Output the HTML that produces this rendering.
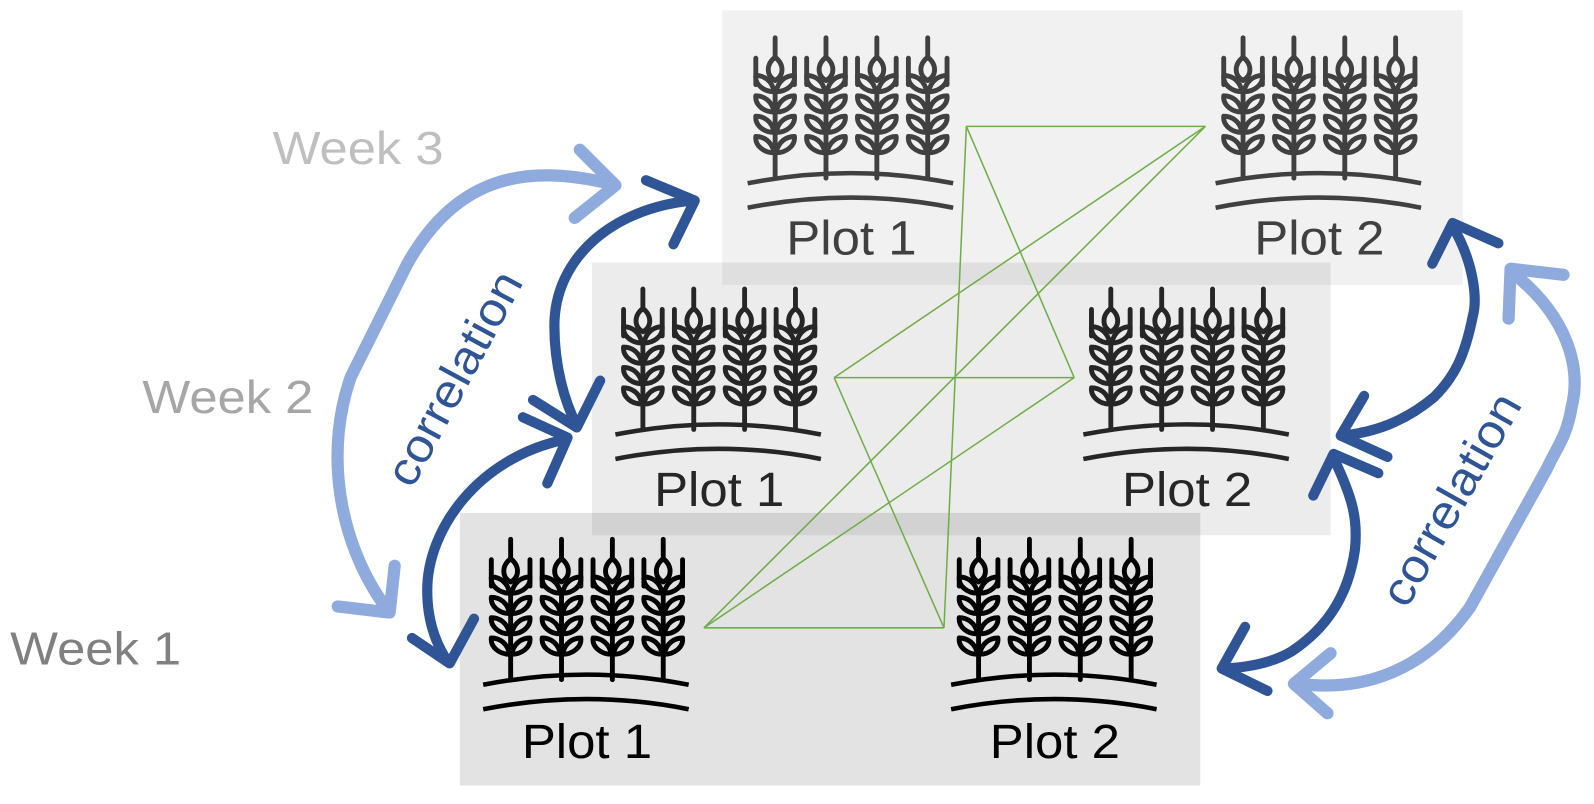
<!DOCTYPE html>
<html><head><meta charset="utf-8"><style>html,body{margin:0;padding:0;background:#fff}svg{display:block}</style></head>
<body>
<svg width="1594" height="804" viewBox="0 0 1567 790" xmlns="http://www.w3.org/2000/svg">
<defs>
<g id="stalk" fill="none" stroke-width="4.8" stroke-linecap="round" stroke-linejoin="round">
  <line x1="0" y1="0" x2="0" y2="20"/>
  <path d="M0,19 C-9,26 -9,37 0,42 C9,37 9,26 0,19Z"/>
  <line x1="-19" y1="20" x2="-19" y2="46"/><line x1="19" y1="20" x2="19" y2="46"/>
  <path d="M-1,53 C-3,42 -11,37 -19,37 C-20,46 -11,53 -1,53Z M1,53 C3,42 11,37 19,37 C20,46 11,53 1,53Z"/>
  <path d="M-1,73 C-3,62 -11,57 -19,57 C-20,66 -11,73 -1,73Z M1,73 C3,62 11,57 19,57 C20,66 11,73 1,73Z"/>
  <path d="M-1,93 C-3,82 -11,77 -19,77 C-20,86 -11,93 -1,93Z M1,93 C3,82 11,77 19,77 C20,86 11,93 1,93Z"/>
  <path d="M-1,113 C-3,102 -11,97 -19,97 C-20,106 -11,113 -1,113Z M1,113 C3,102 11,97 19,97 C20,106 11,113 1,113Z"/>
  <line x1="0" y1="53" x2="0" y2="138"/>
</g>
<g id="icon" fill="none" stroke-width="4.5">
  <use href="#stalk"/><use href="#stalk" x="50"/><use href="#stalk" x="100"/><use href="#stalk" x="150"/>
  <path d="M-27,143 Q75,123 175,143"/>
  <path d="M-27,167 Q75,147 175,167"/>
</g>
</defs>
<rect x="710" y="10" width="728" height="270" fill="rgba(0,0,0,0.055)"/>
<rect x="582" y="258" width="726" height="268" fill="rgba(0,0,0,0.075)"/>
<rect x="452" y="504" width="728" height="268" fill="rgba(0,0,0,0.11)"/>

<g stroke="#70ad47" stroke-width="1.5" fill="none">
<line x1="950" y1="124" x2="1185" y2="124"/><line x1="950" y1="124" x2="1056" y2="371"/>
<line x1="950" y1="124" x2="928" y2="617"/><line x1="1185" y1="124" x2="820" y2="371"/>
<line x1="1185" y1="124" x2="692" y2="617"/><line x1="820" y1="371" x2="1056" y2="371"/>
<line x1="820" y1="371" x2="928" y2="617"/><line x1="1056" y1="371" x2="692" y2="617"/>
<line x1="692" y1="617" x2="928" y2="617"/>
</g>

<g stroke="#404040"><use href="#icon" x="762" y="37"/><use href="#icon" x="1222" y="37"/></g>
<g stroke="#262626"><use href="#icon" x="632" y="284"/><use href="#icon" x="1092" y="284"/></g>
<g stroke="#000"><use href="#icon" x="502" y="530"/><use href="#icon" x="962" y="530"/></g>

<g font-family="Liberation Sans, sans-serif" font-size="47" text-anchor="middle">
<text x="837" y="250" fill="#404040" textLength="128" lengthAdjust="spacingAndGlyphs">Plot 1</text>
<text x="1297" y="250" fill="#404040" textLength="128" lengthAdjust="spacingAndGlyphs">Plot 2</text>
<text x="707" y="497" fill="#262626" textLength="128" lengthAdjust="spacingAndGlyphs">Plot 1</text>
<text x="1167" y="497" fill="#262626" textLength="128" lengthAdjust="spacingAndGlyphs">Plot 2</text>
<text x="577" y="745" fill="#000" textLength="128" lengthAdjust="spacingAndGlyphs">Plot 1</text>
<text x="1037" y="745" fill="#000" textLength="128" lengthAdjust="spacingAndGlyphs">Plot 2</text>
</g>
<g font-family="Liberation Sans, sans-serif" font-size="46">
<text x="268" y="161" fill="#bfbfbf" textLength="168" lengthAdjust="spacingAndGlyphs">Week 3</text>
<text x="140" y="406" fill="#a6a6a6" textLength="168" lengthAdjust="spacingAndGlyphs">Week 2</text>
<text x="10" y="653" fill="#808080" textLength="168" lengthAdjust="spacingAndGlyphs">Week 1</text>
</g>

<g stroke="#8faadc" stroke-width="12" fill="none" stroke-linecap="round" stroke-linejoin="round">
<path d="M598,180 C520,162 450,170 400,260 L345,370 C320,440 330,530 380,598"/>
<polyline points="570,147 605,182 565,214"/>
<polyline points="332,596 383,602 388,556"/>
<path d="M1487,268 C1540,310 1555,360 1545,400 C1540,430 1530,440 1521,460 L1445,597 C1400,660 1340,680 1276,672"/>
<polyline points="1537,270 1485,264 1483,313"/>
<polyline points="1308,642 1272,672 1305,701"/>
</g>
<g stroke="#2f5597" stroke-width="10" fill="none" stroke-linecap="round" stroke-linejoin="round">
<path d="M680,197 C600,205 545,255 545,320 C545,360 555,395 567,418"/>
<polyline points="635,177 683,197 662,240"/>
<polyline points="590,374 567,420 524,393"/>
<path d="M555,432 C470,450 420,520 420,580 C420,610 428,632 440,650"/>
<polyline points="514,410 558,430 538,475"/>
<polyline points="405,627 442,652 466,608"/>
<path d="M1428,222 C1450,260 1452,295 1448,310 C1440,350 1430,370 1410,390 C1380,415 1350,425 1320,428"/>
<polyline points="1408,259 1428,219 1473,239"/>
<polyline points="1341,389 1318,428 1364,449"/>
<path d="M1311,450 C1330,490 1335,510 1332,540 C1325,590 1300,620 1270,640 C1250,652 1225,656 1203,657"/>
<polyline points="1291,487 1311,446 1355,465"/>
<polyline points="1224,616 1201,657 1246,679"/>
</g>
<g font-family="Liberation Sans, sans-serif" font-size="46" fill="#2f5597" text-anchor="middle">
<text transform="translate(447,372) rotate(-61.7)" y="15" textLength="232" lengthAdjust="spacingAndGlyphs">correlation</text>
<text transform="translate(1427,491) rotate(-60.5)" y="15" textLength="232" lengthAdjust="spacingAndGlyphs">correlation</text>
</g>
</svg>
</body></html>
